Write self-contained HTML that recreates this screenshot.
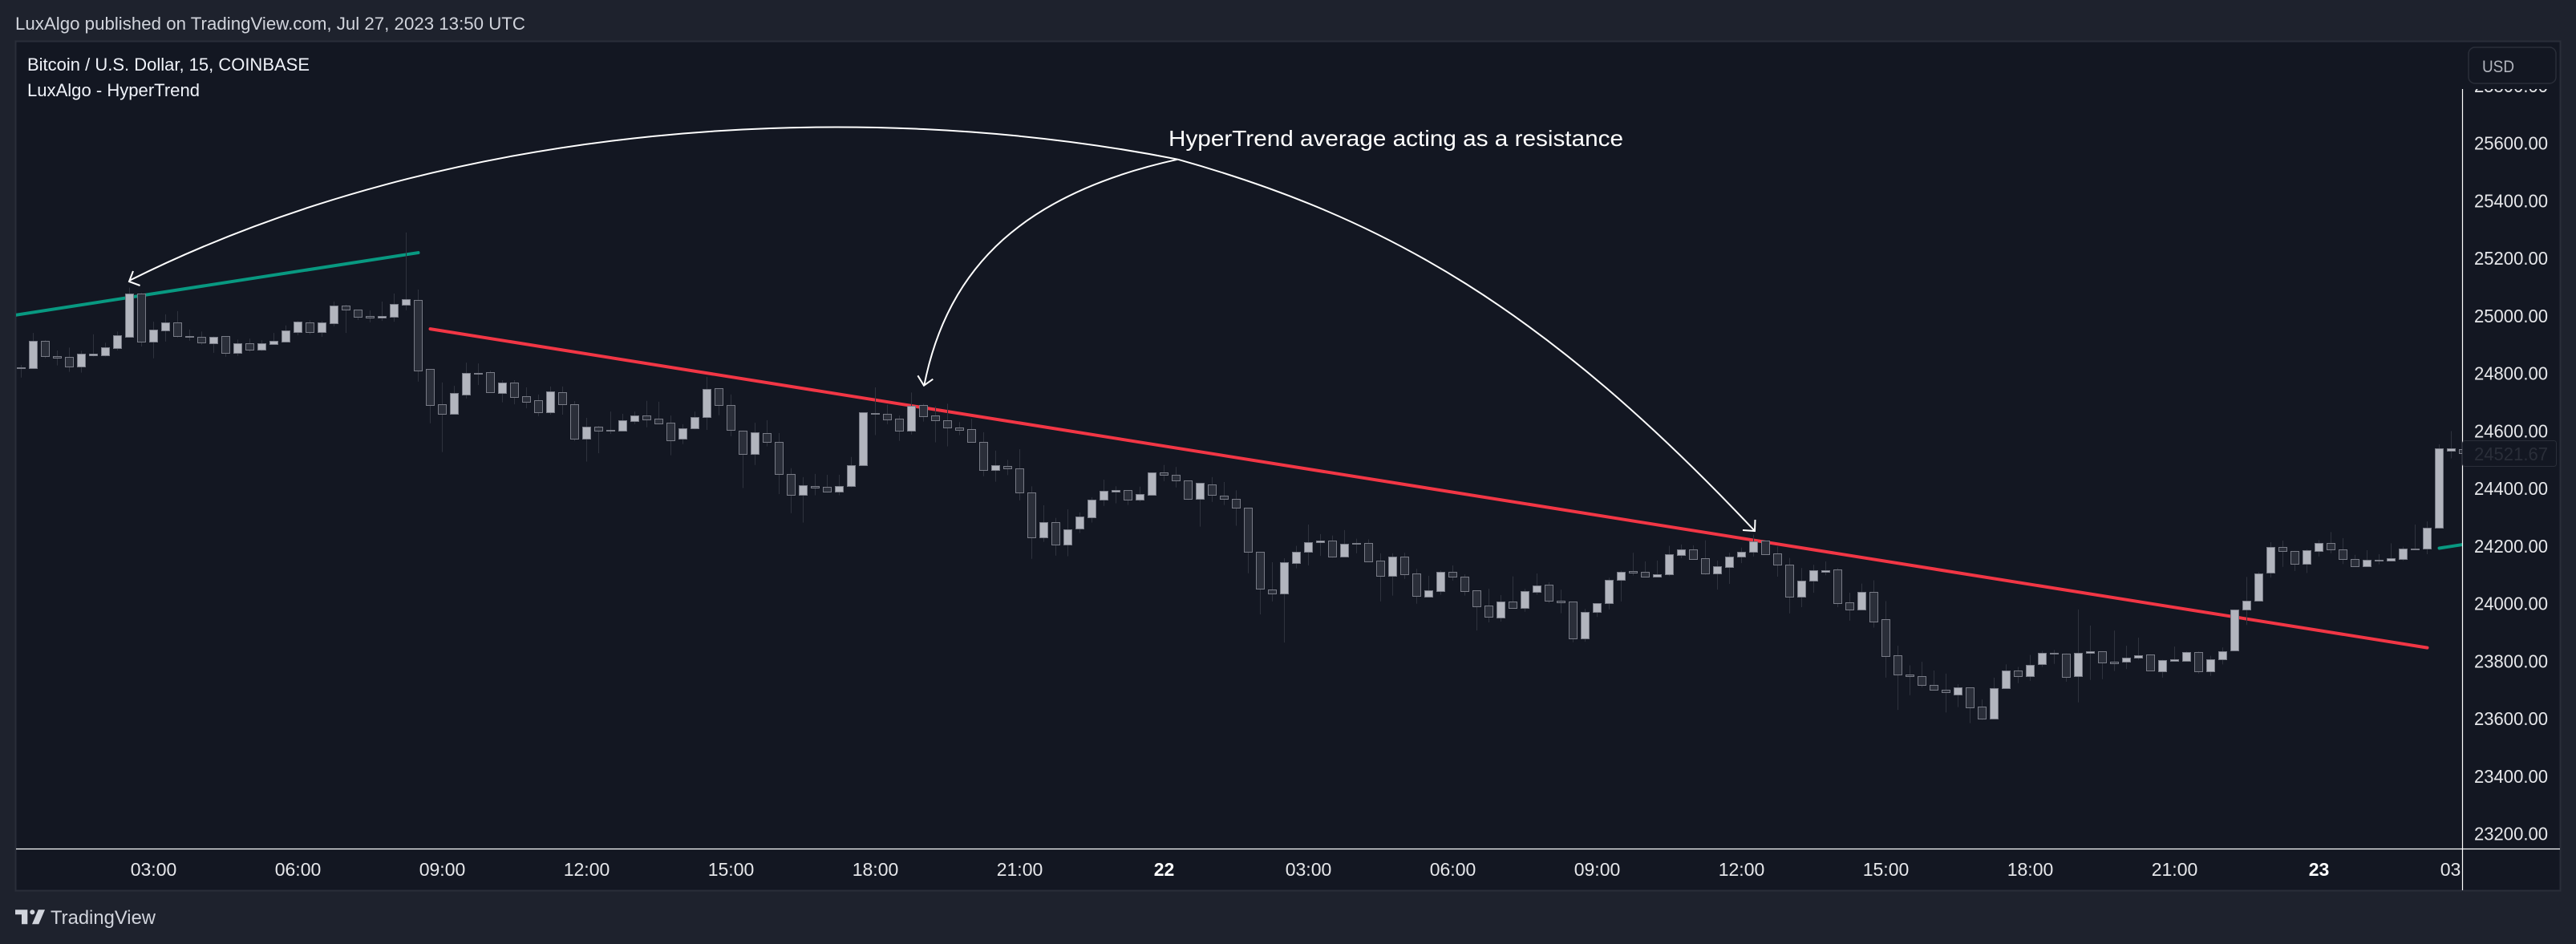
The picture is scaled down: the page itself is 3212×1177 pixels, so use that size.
<!DOCTYPE html>
<html lang="en">
<head>
<meta charset="utf-8">
<title>Bitcoin / U.S. Dollar - LuxAlgo HyperTrend</title>
<style>
html,body{margin:0;padding:0;background:#1e222d;width:3212px;height:1177px;overflow:hidden}
svg{display:block;font-family:"Liberation Sans",sans-serif}
</style>
</head>
<body>
<svg id="chart" xmlns="http://www.w3.org/2000/svg" width="3212" height="1177" viewBox="0 0 3212 1177">
  <defs>
    <clipPath id="pane-clip"><rect x="20" y="52" width="3050.5" height="1006"/></clipPath>
    <clipPath id="price-clip"><rect x="3071" y="111" width="121" height="947"/></clipPath>
    <clipPath id="time-clip"><rect x="20" y="1059" width="3050" height="51"/></clipPath>
  </defs>
  <rect x="0" y="0" width="3212" height="1177" fill="#1e222d"/>
  <rect x="19.5" y="51.5" width="3173" height="1059" fill="#131722" stroke="#2a2e39" stroke-width="2"/>
  <text x="19" y="37" font-size="22" fill="#d1d4dc" textLength="636" lengthAdjust="spacingAndGlyphs">LuxAlgo published on TradingView.com, Jul 27, 2023 13:50 UTC</text>

  <g id="trend-layer" clip-path="url(#pane-clip)"></g>
  <g id="candle-layer" clip-path="url(#pane-clip)"></g>
  <g id="annotation-layer" clip-path="url(#pane-clip)" fill="none" stroke="#ffffff" stroke-width="2"></g>

  <text x="1457" y="182" font-size="28" fill="#ffffff" textLength="567" lengthAdjust="spacingAndGlyphs">HyperTrend average acting as a resistance</text>
  <text x="34" y="88" font-size="22" fill="#f0f3fa" textLength="352" lengthAdjust="spacingAndGlyphs">Bitcoin / U.S. Dollar, 15, COINBASE</text>
  <text x="34" y="120" font-size="22" fill="#f0f3fa" textLength="215" lengthAdjust="spacingAndGlyphs">LuxAlgo - HyperTrend</text>

  <line x1="3070.5" y1="111" x2="3070.5" y2="1110" stroke="#ffffff" stroke-width="1.2"/>
  <line x1="20" y1="1058.5" x2="3192" y2="1058.5" stroke="#ffffff" stroke-width="1.2"/>

  <g id="price-axis" clip-path="url(#price-clip)"></g>
  <g id="time-axis" clip-path="url(#time-clip)"></g>

  <g>
    <rect x="3070.5" y="549.5" width="117" height="32" rx="3" fill="#131722" stroke="#2a2e39" stroke-width="1"/>
    <text id="last-price-text" x="3085" y="574" font-size="23" fill="#2a2e39" textLength="92" lengthAdjust="spacingAndGlyphs">24521.67</text>
  </g>

  <g>
    <rect x="3078" y="59" width="109" height="45" rx="8" fill="#131722" stroke="#2a2e39" stroke-width="1.5"/>
    <text x="3095" y="90" font-size="21" fill="#b2b5be" textLength="40" lengthAdjust="spacingAndGlyphs">USD</text>
  </g>

  <g>
    <path fill="#d1d4dc" d="M19 1134.3H34.3V1152.3H27V1140.3H19Z"/>
    <circle cx="40.3" cy="1137.3" r="3" fill="#d1d4dc"/>
    <path fill="#d1d4dc" d="M47.7 1134.3H56L48.3 1152.3H40Z"/>
    <text x="63" y="1152" font-size="24" fill="#d1d4dc" textLength="131" lengthAdjust="spacingAndGlyphs">TradingView</text>
  </g>
</svg>
<script>
const opens = [
24816,24816,24911,24858,24855,24823,24862,24862,24887,24926,
25075,24910,24949,24975,24928,24925,24904,24927,24871,24902,
24882,24899,24910,24943,24975,24943,24974,25033,25019,24997,
24991,24996,25038,25053,24813,24690,24659,24724,24799,24802,
24731,24766,24718,24704,24664,24732,24690,24572,24612,24598,
24600,24634,24652,24640,24626,24571,24607,24646,24746,24688,
24598,24518,24590,24559,24448,24375,24407,24403,24387,24406,
24479,24660,24657,24640,24598,24688,24651,24635,24610,24604,
24559,24462,24478,24467,24384,24228,24281,24203,24258,24297,
24359,24387,24392,24359,24377,24453,24445,24426,24362,24412,
24373,24362,24331,24178,24047,24034,24140,24178,24211,24217,
24163,24208,24208,24147,24096,24161,24102,24021,24043,24108,
24091,24044,23991,23951,24005,23984,24040,24063,24007,24005,
23876,23968,23999,24080,24111,24110,24093,24099,24168,24186,
24155,24102,24126,24161,24178,24217,24172,24133,24021,24079,
24110,24116,24002,23979,24038,23943,23818,23751,23745,23715,
23698,23683,23706,23640,23600,23704,23765,23745,23787,23826,
23824,23745,23826,23832,23796,23796,23810,23821,23762,23798,
23798,23831,23762,23804,23835,23977,24007,24105,24194,24180,
24136,24182,24208,24186,24152,24129,24149,24149,24152,24188,
24189,24261,24531,24534];
const highs = [
24828,24939,24914,24878,24888,24877,24934,24905,24944,25097,
25078,24978,25004,25015,24951,24944,24927,24927,24916,24919,
24914,24939,24965,24981,24983,24981,25048,25037,25020,25017,
25048,25076,25288,25090,24813,24767,24755,24836,24833,24808,
24775,24775,24750,24725,24753,24753,24702,24644,24616,24666,
24658,24666,24703,24700,24652,24622,24666,24786,24746,24725,
24600,24627,24636,24591,24469,24438,24449,24446,24446,24508,
24663,24750,24690,24652,24732,24693,24684,24693,24629,24640,
24594,24530,24498,24535,24406,24340,24296,24326,24315,24368,
24429,24406,24392,24405,24453,24480,24473,24426,24417,24438,
24421,24392,24331,24178,24142,24156,24199,24273,24240,24235,
24254,24224,24222,24173,24173,24175,24119,24095,24114,24131,
24100,24044,24050,24028,24093,24050,24103,24072,24047,24005,
23980,24000,24088,24113,24175,24145,24148,24199,24204,24201,
24218,24148,24175,24193,24238,24218,24197,24157,24122,24133,
24145,24122,24036,24068,24079,24007,23852,23784,23796,23766,
23755,23718,23706,23665,23741,23787,23778,23820,23834,23837,
23825,23978,23922,23833,23905,23852,23880,23822,23803,23849,
23832,23832,23817,23846,23978,24091,24108,24212,24217,24182,
24187,24219,24247,24226,24168,24184,24170,24208,24196,24273,
24284,24552,24598,24536];
const lows = [
24784,24816,24851,24826,24804,24801,24857,24857,24878,24923,
24892,24851,24909,24923,24912,24898,24870,24856,24859,24873,
24876,24899,24910,24931,24934,24925,24962,24939,24984,24976,
24981,24978,25018,24770,24625,24525,24656,24711,24758,24734,
24698,24691,24677,24650,24655,24655,24563,24492,24521,24588,
24600,24622,24611,24622,24514,24553,24604,24602,24653,24580,
24400,24480,24545,24379,24313,24280,24375,24384,24375,24402,
24479,24584,24622,24564,24586,24631,24559,24545,24584,24559,
24441,24422,24445,24357,24154,24213,24165,24163,24244,24280,
24338,24347,24341,24352,24375,24424,24402,24359,24266,24352,
24341,24269,24104,23961,24006,23863,24121,24131,24164,24158,
24163,24173,24146,24006,24026,24084,23998,24021,24029,24078,
24026,23905,23933,23936,23984,23970,24029,24000,23965,23864,
23866,23952,23978,24006,24096,24092,24092,24094,24156,24154,
24099,24047,24067,24139,24162,24171,24092,23964,23986,24036,
24097,23986,23939,23976,23915,23741,23629,23680,23707,23696,
23620,23639,23583,23594,23599,23703,23722,23730,23778,23789,
23727,23655,23733,23736,23764,23771,23804,23764,23741,23798,
23797,23755,23747,23787,23834,23924,24007,24089,24126,24112,
24105,24162,24173,24136,24129,24129,24135,24147,24147,24187,
24170,24259,24503,24515];
const closes = [
24819,24911,24858,24854,24823,24866,24867,24888,24930,25075,
24910,24950,24975,24929,24927,24907,24925,24871,24902,24882,
24902,24911,24947,24978,24943,24975,25033,25021,24996,24991,
24997,25039,25056,24809,24689,24659,24729,24799,24799,24734,
24766,24717,24701,24664,24735,24692,24572,24612,24600,24602,
24635,24651,24639,24625,24565,24607,24646,24743,24688,24601,
24518,24593,24559,24448,24375,24409,24402,24387,24406,24479,
24663,24660,24637,24598,24687,24649,24635,24610,24601,24559,
24462,24479,24467,24384,24228,24281,24203,24256,24300,24359,
24389,24392,24359,24378,24453,24445,24426,24362,24417,24375,
24362,24331,24178,24049,24033,24141,24178,24211,24217,24163,
24205,24205,24146,24096,24161,24101,24024,24044,24108,24093,
24043,23990,23954,24005,23984,24041,24060,24007,24004,23878,
23968,23999,24080,24110,24107,24093,24099,24169,24186,24154,
24102,24127,24161,24178,24216,24171,24135,24021,24077,24113,
24115,24001,23979,24038,23937,23817,23753,23747,23717,23699,
23690,23706,23639,23600,23704,23765,23745,23784,23826,23823,
23743,23826,23832,23793,23792,23810,23820,23765,23801,23804,
23831,23762,23804,23834,23977,24007,24102,24194,24180,24136,
24183,24208,24186,24154,24129,24150,24150,24155,24189,24189,
24261,24537,24537,24522];

const priceTicks = [25800,25600,25400,25200,25000,24800,24600,24400,24200,24000,23800,23600,23400,23200];
const timeTickBars = [11,23,35,47,59,71,83,95,107,119,131,143,155,167,179,191,203];
const timeTickLabels = ["03:00","06:00","09:00","12:00","15:00","18:00","21:00","22","03:00","06:00","09:00","12:00","15:00","18:00","21:00","23","03:00"];

const trendUpBars = [-0.5,33];
const trendUpValues = [25001,25218];
const trendDownBars = [34,200];
const trendDownValues = [24953,23845];
const trendUp2Bars = [201,203];
const trendUp2Values = [24191,24204];

const NS = "http://www.w3.org/2000/svg";
function xScale(i){ return 26.5 + 15 * i; }
function yScale(p){ return 178 + (25600 - p) * 0.35875; }
function mk(tag, attrs, parent){
  const el = document.createElementNS(NS, tag);
  for (const k in attrs) el.setAttribute(k, attrs[k]);
  parent.appendChild(el);
  return el;
}

const trendLayer = document.getElementById("trend-layer");
function drawTrend(bars, vals, color, name){
  const el = mk("line", {
    x1: xScale(bars[0]), y1: yScale(vals[0]),
    x2: xScale(bars[1]), y2: yScale(vals[1]),
    stroke: color, "stroke-width": 4, "stroke-linecap": "round"
  }, trendLayer);
  
  
}
drawTrend(trendUpBars, trendUpValues, "#089981", "hypertrend-bullish-line");
drawTrend(trendDownBars, trendDownValues, "#f23645", "hypertrend-bearish-line");
drawTrend(trendUp2Bars, trendUp2Values, "#089981", "hypertrend-bullish-line-recent");

const candleLayer = document.getElementById("candle-layer");
opens.forEach(function(o, i){
  const c = closes[i], up = c >= o;
  const cx = xScale(i);
  const g = mk("g", {}, candleLayer);
  
  
  const wick = mk("line", {
    x1: cx, x2: cx, y1: yScale(highs[i]), y2: yScale(lows[i]),
    stroke: "#2f333e", "stroke-width": 1
  }, g);
  
  
  const top = Math.round(yScale(Math.max(o, c))) + 0.5;
  const bot = Math.round(yScale(Math.min(o, c))) + 0.5;
  const body = mk("rect", {
    x: cx - 5, y: top, width: 10, height: Math.max(bot - top, 1),
    fill: up ? "#b2b5be" : "#2a2e39", stroke: "#787b86", "stroke-width": 1
  }, g);
  
  
});

const priceAxis = document.getElementById("price-axis");
priceTicks.forEach(function(p){
  const t = mk("text", { x: 3085, y: yScale(p) + 8.5, "font-size": 23, fill: "#e6e7ea", textLength: 92, lengthAdjust: "spacingAndGlyphs" }, priceAxis);
  
  
  t.textContent = p.toFixed(2);
});

const timeAxis = document.getElementById("time-axis");
timeTickBars.forEach(function(b, i){
  const label = timeTickLabels[i];
  const bold = label.length === 2;
  const t = mk("text", {
    x: xScale(b), y: 1092, "font-size": 23, "text-anchor": "middle",
    fill: bold ? "#ffffff" : "#e6e7ea", "font-weight": bold ? 700 : 400
  }, timeAxis);
  
  
  t.textContent = label;
});

/* Hand-drawn annotation arrows (not chart data) */
const annotationLayer = document.getElementById("annotation-layer");
function drawArrow(d, head, name){
  const path = mk("path", { d: d }, annotationLayer);
  
  
  const tip = mk("polyline", { points: head }, annotationLayer);
  
  
}
drawArrow("M161 350 C561 150 1068.6 120 1468.6 198.7", "166,338 161,351 174.6,356", "arrow-to-first-touch");
drawArrow("M1468.6 198.7 C1728.6 271.5 1928 386 2188 662", "2188.5,648 2188,662 2173,661", "arrow-to-third-touch");
drawArrow("M1468.6 198.7 C1280 240 1182 330 1152.3 480.7", "1144.4,468.3 1152,480.7 1163.3,472.7", "arrow-to-second-touch");
</script>
</body>
</html>
